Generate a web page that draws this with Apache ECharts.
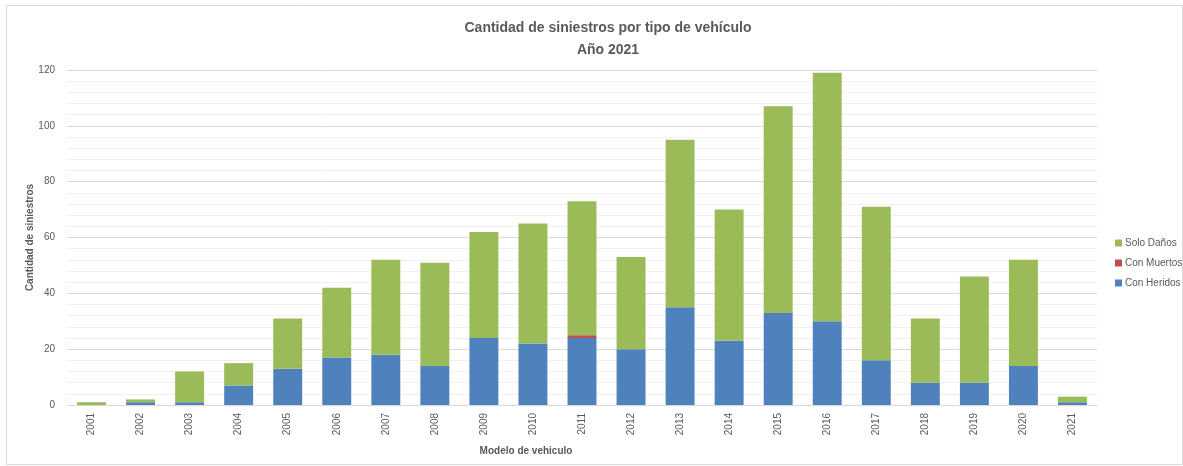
<!DOCTYPE html>
<html>
<head>
<meta charset="utf-8">
<script src="https://cdn.jsdelivr.net/npm/echarts@6/dist/echarts.min.js"></script>
<style>
  html, body { margin: 0; padding: 0; background: #fff; }
  #chart { width: 1183px; height: 466px; }
</style>
</head>
<body>
<div id="chart"></div>
<script>
  // modelos de vehiculo
  var years = ['2001','2002','2003','2004','2005','2006','2007','2008','2009','2010','2011',
               '2012','2013','2014','2015','2016','2017','2018','2019','2020','2021'];
  var conHeridos = [0, 1, 1, 7, 13, 17, 18, 14, 24, 22, 24, 20, 35, 23, 33, 30, 16, 8, 8, 14, 1];
  var conMuertos = [0, 0, 0, 0, 0, 0, 0, 0, 0, 0, 1, 0, 0, 0, 0, 0, 0, 0, 0, 0, 0];
  var soloDanos  = [1, 1, 11, 8, 18, 25, 34, 37, 38, 43, 48, 33, 60, 47, 74, 89, 55, 23, 38, 38, 2];

  var txt = '#595959';
  var font = '"Liberation Sans", Arial, sans-serif';

  var chart = echarts.init(document.getElementById('chart'));
  var option = {
    animation: false,
    textStyle: { fontFamily: font },
    title: [
      {
        text: 'Cantidad de siniestros por tipo de vehículo\nAño 2021',
        left: 603, top: 12, textAlign: 'center',
        textStyle: { color: txt, fontSize: 14, fontWeight: 'bold', lineHeight: 22, fontFamily: font }
      },
      {
        text: 'Modelo de vehiculo',
        left: 521, top: 441, textAlign: 'center',
        textStyle: { color: txt, fontSize: 10, fontWeight: 'bold', fontFamily: font }
      }
    ],
    legend: {
      orient: 'vertical',
      left: 1110, top: 233,
      itemWidth: 7, itemHeight: 7, itemGap: 10,
      icon: 'rect',
      data: ['Solo Daños', 'Con Muertos', 'Con Heridos'],
      textStyle: { color: txt, fontSize: 10, fontFamily: font, padding: [0, 0, 0, -2] }
    },
    grid: { left: 67, right: 86, top: 70, bottom: 61 },
    xAxis: {
      type: 'category',
      data: years,
      axisLine: { lineStyle: { color: '#d9d9d9' } },
      axisTick: { show: false },
      axisLabel: { rotate: 90, color: txt, fontSize: 10, margin: 8 }
    },
    yAxis: {
      type: 'value',
      min: 0, max: 120, interval: 20,
      name: 'Cantidad de siniestros',
      nameLocation: 'middle',
      nameMoveOverlap: false,
      nameGap: 32,
      nameTextStyle: { color: txt, fontSize: 10, fontWeight: 'bold' },
      axisLine: { show: false },
      axisTick: { show: false },
      axisLabel: { color: txt, fontSize: 10, margin: 12 },
      splitLine: { lineStyle: { color: '#d9d9d9' } },
      minorTick: { show: false, splitNumber: 5 },
      minorSplitLine: { show: true, lineStyle: { color: '#f0f0f0' } }
    },
    series: [
      { name: 'Con Heridos', type: 'bar', stack: 'total', data: conHeridos,
        barCategoryGap: '41%', itemStyle: { color: '#4f81bd' } },
      { name: 'Con Muertos', type: 'bar', stack: 'total', data: conMuertos,
        itemStyle: { color: '#c0504d' } },
      { name: 'Solo Daños', type: 'bar', stack: 'total', data: soloDanos,
        itemStyle: { color: '#9bbb59' } }
    ],
    graphic: [
      { type: 'rect', shape: { x: 6.5, y: 5.5, width: 1176, height: 459 },
        style: { fill: 'none', stroke: '#d9d9d9', lineWidth: 1 }, silent: true }
    ]
  };
  chart.setOption(option);
</script>
</body>
</html>
